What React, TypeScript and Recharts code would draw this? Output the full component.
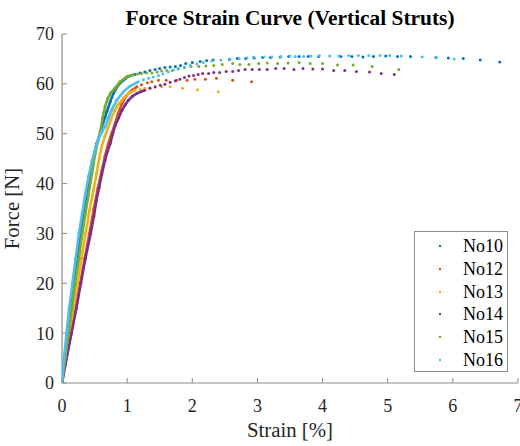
import React from 'react';
import { ScatterChart, Scatter, XAxis, YAxis, Legend, Label } from 'recharts';

const FONT = 'Liberation Serif, Times New Roman, Times, serif';

const seriesNames = ['No10', 'No12', 'No13', 'No14', 'No15', 'No16'];
const seriesColors = ['#0072BD', '#D95319', '#EDB120', '#7E2F8E', '#77AC30', '#4DBEEE'];
const xTicks = [0, 1, 2, 3, 4, 5, 6, 7];
const yTicks = [0, 10, 20, 30, 40, 50, 60, 70];

// [strain %, force N] — dense elastic part (rise) and sparse plateau part
const no10Rise: [number, number][] = [
  [0, 0], [0.04, 5], [0.09, 10], [0.14, 15], [0.19, 20], [0.24, 25], [0.29, 30], [0.34, 34],
  [0.39, 38], [0.44, 42], [0.49, 45.5], [0.53, 48], [0.56, 49], [0.6, 50.8], [0.63, 52.2],
  [0.66, 53.3], [0.69, 54.5], [0.74, 56.4], [0.79, 58.1], [0.86, 59.7], [0.94, 60.7],
  [1.02, 61.5], [1.12, 61.9],
];
const no10Plateau: [number, number][] = [
  [1.2, 62.2], [1.27, 62.4], [1.35, 62.7], [1.43, 62.9], [1.5, 63.1], [1.58, 63.3], [1.66, 63.4],
  [1.74, 63.5], [1.82, 63.7], [1.9, 64.1], [2.0, 64.3], [2.12, 64.5], [2.22, 64.7], [2.32, 64.8],
  [2.57, 64.9], [2.69, 65.1], [2.82, 65.1], [2.95, 65.2], [3.08, 65.3], [3.2, 65.3], [3.35, 65.4],
  [3.48, 65.5], [3.64, 65.5], [3.78, 65.5], [3.94, 65.5], [4.28, 65.5], [4.45, 65.5], [4.62, 65.4],
  [4.78, 65.5], [4.97, 65.6], [5.15, 65.5], [5.35, 65.5], [5.74, 65.3], [5.93, 65.2], [6.16, 65.1],
  [6.42, 64.8], [6.72, 64.4],
];

const no12Rise: [number, number][] = [
  [0, 0], [0.07, 5], [0.14, 10], [0.21, 15], [0.28, 20], [0.35, 25], [0.42, 30], [0.49, 35],
  [0.55, 39], [0.61, 42.5], [0.66, 45.5], [0.71, 48], [0.76, 50], [0.81, 51.8], [0.86, 54],
  [0.92, 56], [0.99, 57.7], [1.07, 58.7], [1.15, 59.4],
];
const no12Plateau: [number, number][] = [
  [1.22, 59.8], [1.31, 60.2], [1.38, 60.4], [1.48, 60.7], [1.6, 60.7], [1.76, 60.7], [1.92, 60.7],
  [2.04, 60.9], [2.2, 60.9], [2.37, 61.1], [2.62, 60.7], [2.91, 60.4],
];

const no13Rise: [number, number][] = [
  [0, 0], [0.06, 5], [0.12, 10], [0.18, 15], [0.24, 20], [0.3, 25], [0.36, 30], [0.42, 34.5],
  [0.48, 38.5], [0.53, 42], [0.57, 45], [0.61, 47.4], [0.66, 49.5], [0.71, 51.4], [0.76, 53.2],
  [0.81, 54.7], [0.86, 55.8], [0.92, 56.7], [0.97, 57.5], [1.02, 58.1], [1.07, 58.4], [1.12, 58.7],
];
const no13Plateau: [number, number][] = [
  [1.2, 58.9], [1.27, 59.1], [1.35, 59.2], [1.43, 59.3], [1.53, 59.4], [1.66, 59.4], [1.85, 59.1],
  [2.08, 58.8], [2.4, 58.4],
];

const no14Rise: [number, number][] = [
  [0, 0], [0.07, 5], [0.145, 10], [0.22, 15], [0.29, 20], [0.36, 25], [0.44, 30], [0.49, 33.5],
  [0.53, 36.7], [0.57, 39.2], [0.61, 41.8], [0.66, 44.7], [0.7, 46.5], [0.74, 48], [0.78, 50],
  [0.81, 51.4], [0.87, 53.2], [0.92, 54.7], [0.97, 55.8], [1.02, 56.7], [1.08, 57.5], [1.15, 58.1],
  [1.21, 58.4], [1.27, 58.7],
];
const no14Plateau: [number, number][] = [
  [1.35, 59.1], [1.43, 59.4], [1.51, 59.7], [1.58, 59.9], [1.66, 60.3], [1.74, 60.6], [1.81, 60.9],
  [1.88, 61.3], [1.95, 61.6], [2.02, 61.7], [2.09, 61.9], [2.16, 62.1], [2.25, 62.1], [2.33, 62.3],
  [2.42, 62.3], [2.52, 62.5], [2.62, 62.5], [2.71, 62.7], [2.81, 62.9], [2.92, 62.9], [3.03, 62.9],
  [3.15, 62.9], [3.28, 63.1], [3.41, 63.1], [3.56, 62.9], [3.7, 63.1], [3.85, 63.0], [4.0, 63.0],
  [4.17, 62.7], [4.34, 62.7], [4.52, 62.5], [4.72, 62.4], [4.9, 62.1], [5.1, 61.9],
];

const no15Rise: [number, number][] = [
  [0, 0], [0.05, 5], [0.1, 10], [0.15, 15], [0.2, 20], [0.26, 25], [0.31, 30], [0.36, 34],
  [0.41, 38], [0.46, 42], [0.51, 46], [0.55, 48.5], [0.59, 50.5], [0.62, 53], [0.66, 55.4],
  [0.7, 57], [0.75, 58.2], [0.81, 59.1], [0.89, 60.4], [0.99, 61.4], [1.05, 61.7], [1.1, 61.9],
];
const no15Plateau: [number, number][] = [
  [1.16, 62.0], [1.22, 62.1], [1.3, 62.2], [1.38, 62.2], [1.46, 62.4], [1.53, 62.6], [1.61, 62.7],
  [1.69, 62.7], [1.78, 63.0], [1.88, 63.3], [1.98, 63.5], [2.1, 63.5], [2.21, 63.6], [2.33, 63.7],
  [2.46, 63.9], [2.62, 64.1], [2.73, 63.9], [2.87, 63.9], [3.02, 64.1], [3.15, 64.2], [3.31, 64.1],
  [3.47, 64.2], [3.64, 64.3], [3.81, 64.1], [4.0, 64.1], [4.23, 63.8], [4.47, 63.8], [4.76, 63.5],
  [5.17, 62.9],
];

const no16Rise: [number, number][] = [
  [0, 0], [0.03, 5], [0.07, 10], [0.11, 15], [0.16, 20], [0.21, 25], [0.26, 30], [0.31, 34],
  [0.36, 38], [0.41, 41.5], [0.46, 44.5], [0.51, 47], [0.56, 49], [0.61, 50.3], [0.66, 51.4],
  [0.71, 53.1], [0.76, 54.7], [0.84, 56.7], [0.94, 58.4], [1.04, 59.5], [1.17, 60.4],
];
const no16Plateau: [number, number][] = [
  [1.25, 60.8], [1.33, 61.1], [1.4, 61.4], [1.48, 61.7], [1.55, 62.0], [1.63, 62.4], [1.71, 62.8],
  [1.79, 63.1], [1.88, 63.4], [1.97, 63.7], [2.07, 64.0], [2.17, 64.3], [2.3, 64.6], [2.44, 64.8],
  [2.58, 65.0], [2.72, 65.1], [2.84, 65.2], [2.94, 65.4], [3.1, 65.4], [3.22, 65.4], [3.36, 65.5],
  [3.5, 65.6], [3.58, 65.5], [3.71, 65.5], [3.82, 65.6], [3.95, 65.7], [4.11, 65.6], [4.25, 65.6],
  [4.4, 65.7], [4.55, 65.7], [4.71, 65.7], [4.88, 65.7], [5.03, 65.7], [5.21, 65.6], [5.53, 65.4],
  [5.75, 65.3], [6.02, 65.0],
];

const riseSets = [no10Rise, no12Rise, no13Rise, no14Rise, no15Rise, no16Rise];
const plateauSets = [no10Plateau, no12Plateau, no13Plateau, no14Plateau, no15Plateau, no16Plateau];

const toPoints = (arr: [number, number][]) => arr.map(([x, y]) => ({ x, y }));

const TEXT_FILL = '#262626';

const Dot = (props: any) => {
  const { cx, cy, fill } = props;
  if (cx == null || cy == null) return null;
  return <circle cx={cx} cy={cy} r={1.5} fill={fill} />;
};

const XTick = (props: any) => {
  const { x, y, payload } = props;
  return (
    <text x={x} y={y} dy={12.8} textAnchor="middle" fill={TEXT_FILL} fontSize={18} style={{ fontFamily: FONT }}>
      {payload.value}
    </text>
  );
};

const YTick = (props: any) => {
  const { x, y, payload } = props;
  return (
    <text x={x} y={y} dy={6.4} textAnchor="end" fill={TEXT_FILL} fontSize={18} style={{ fontFamily: FONT }}>
      {payload.value}
    </text>
  );
};

const XLabel = (props: any) => {
  const vb = props.viewBox || {};
  const cx = vb.x + vb.width / 2;
  return (
    <text x={cx} y={vb.y + 54} textAnchor="middle" fill={TEXT_FILL} fontSize={20.8} style={{ fontFamily: FONT }}>
      Strain [%]
    </text>
  );
};

const YLabel = (props: any) => {
  const vb = props.viewBox || {};
  const cy = vb.y + vb.height / 2;
  const bx = 18.5;
  return (
    <text
      x={bx}
      y={cy}
      transform={`rotate(-90, ${bx}, ${cy})`}
      textAnchor="middle"
      fill={TEXT_FILL}
      fontSize={20.8}
      style={{ fontFamily: FONT }}
    >
      Force [N]
    </text>
  );
};

const LegendBox = () => (
  <div
    style={{
      border: '1px solid #8c8c8c',
      background: '#ffffff',
      width: 94,
      boxSizing: 'border-box',
      paddingTop: 3,
      fontFamily: FONT,
      fontSize: 18,
      color: '#000000',
    }}
  >
    {seriesNames.map((name, i) => (
      <div key={name} style={{ height: 22.7, display: 'flex', alignItems: 'center' }}>
        <svg width={48} height={10} style={{ flex: 'none' }}>
          <circle cx={25} cy={5} r={1.2} fill={seriesColors[i]} />
        </svg>
        <span style={{ lineHeight: '18px' }}>{name}</span>
      </div>
    ))}
  </div>
);

export default function App() {
  const axisStroke = '#8c8c8c';
  return (
    <div
      style={{
        position: 'absolute',
        left: 0,
        top: 0,
        width: 520,
        height: 446,
        background: '#fff',
        fontFamily: FONT,
      }}
    >
      <div
        style={{
          position: 'absolute',
          left: 0,
          top: 6,
          width: 580,
          textAlign: 'center',
          fontFamily: FONT,
          fontWeight: 'bold',
          fontSize: 21.4,
          lineHeight: '24px',
          color: '#000',
          zIndex: 2,
        }}
      >
        Force Strain Curve (Vertical Struts)
      </div>
      <ScatterChart
        width={520}
        height={446}
        margin={{ top: 34, right: 2, bottom: 0, left: 0 }}
        style={{ fontFamily: FONT }}
      >
        <XAxis
          type="number"
          dataKey="x"
          domain={[0, 7]}
          ticks={xTicks}
          interval={0}
          height={63}
          tick={XTick}
          axisLine={{ stroke: axisStroke, strokeWidth: 1.2 }}
          tickLine={{ stroke: axisStroke, strokeWidth: 1 }}
          tickSize={-5}
          tickMargin={21}
          allowDataOverflow
        >
          <Label content={XLabel} />
        </XAxis>
        <YAxis
          type="number"
          dataKey="y"
          domain={[0, 70]}
          ticks={yTicks}
          interval={0}
          width={62}
          tick={YTick}
          axisLine={{ stroke: axisStroke, strokeWidth: 1.2 }}
          tickLine={{ stroke: axisStroke, strokeWidth: 1 }}
          tickSize={-5}
          tickMargin={13}
          allowDataOverflow
        >
          <Label content={YLabel} />
        </YAxis>
        <Legend
          layout="vertical"
          align="center"
          verticalAlign="middle"
          wrapperStyle={{ left: 414, top: 231, width: 94 }}
          content={() => <LegendBox />}
        />
        {seriesNames.flatMap((name, i) => [
          <Scatter
            key={name + '-rise'}
            name={name + ' rise'}
            data={toPoints(riseSets[i])}
            fill={seriesColors[i]}
            line={{ stroke: seriesColors[i], strokeWidth: 2.6 }}
            lineType="joint"
            shape={Dot}
            legendType="none"
            isAnimationActive={false}
          />,
          <Scatter
            key={name}
            name={name}
            data={toPoints(plateauSets[i])}
            fill={seriesColors[i]}
            shape={Dot}
            isAnimationActive={false}
          />,
        ])}
      </ScatterChart>
    </div>
  );
}
